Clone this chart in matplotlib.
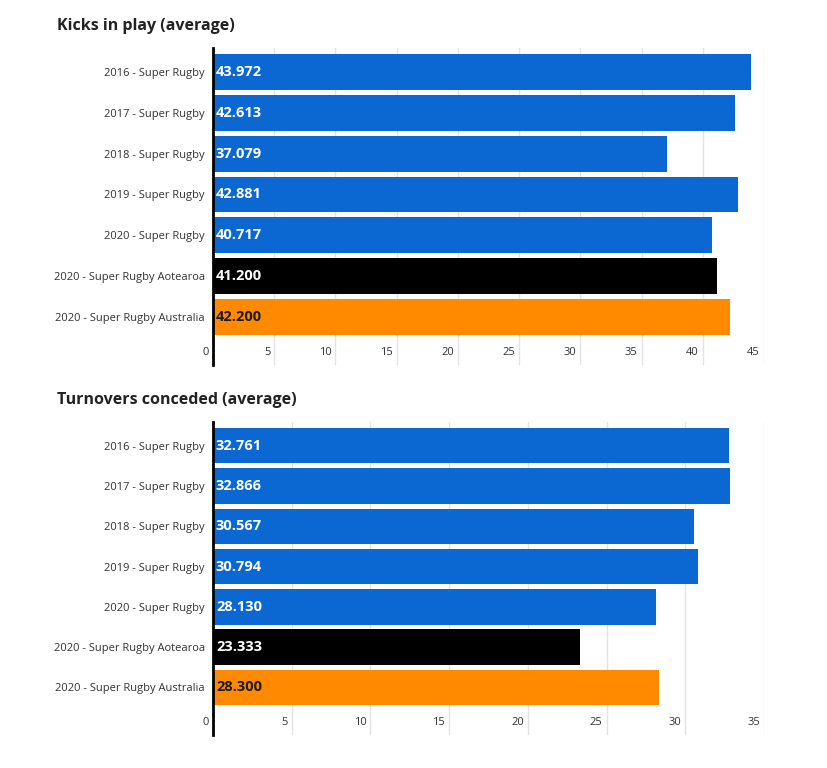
"""Kicks in play / turnovers conceded, Super Rugby seasons (horizontal bars)."""

import matplotlib
matplotlib.use('Agg')
import matplotlib.pyplot as plt
from matplotlib.transforms import ScaledTranslation

plt.rcParams.update({
    'font.family': ['Open Sans', 'DejaVu Sans'],
    'axes.linewidth': 0.8,
})

# ---------------------------------------------------------------------------
# Data
# ---------------------------------------------------------------------------
categories = [
    '2016 - Super Rugby',
    '2017 - Super Rugby',
    '2018 - Super Rugby',
    '2019 - Super Rugby',
    '2020 - Super Rugby',
    '2020 - Super Rugby Aotearoa',
    '2020 - Super Rugby Australia',
]
kicks_in_play = [43.972, 42.613, 37.079, 42.881, 40.717, 41.200, 42.200]
turnovers_conceded = [32.761, 32.866, 30.567, 30.794, 28.130, 23.333, 28.300]

kicks_ticks = [0, 5, 10, 15, 20, 25, 30, 35, 40, 45]
turnover_ticks = [0, 5, 10, 15, 20, 25, 30, 35]

BLUE = '#0b68d2'
BLACK = '#000000'
ORANGE = '#ff8a00'
bar_colours = [BLUE] * 5 + [BLACK, ORANGE]
label_colours = ['white'] * 6 + ['#1a1a1a']

W, H, DPI = 828, 768, 100
fig = plt.figure(figsize=(W / DPI, H / DPI), dpi=DPI)


def draw_panel(rect, title, values, ticks):
    ax = fig.add_axes(rect)
    ypos = list(range(len(categories)))
    ax.barh(ypos, values, height=0.88, color=bar_colours, zorder=3)
    ax.set_xlim(0, ticks[-1])
    ax.set_ylim(len(categories) - 1 + 1.18, -0.59)

    # value labels inside bars, left aligned
    offs = ScaledTranslation(3 / DPI, 0, fig.dpi_scale_trans)
    for y, v, c in zip(ypos, values, label_colours):
        ax.text(0, y, f'{v:.3f}', ha='left', va='center', fontsize=10.5,
                fontweight='bold', color=c, zorder=4,
                transform=ax.transData + offs)

    ax.set_yticks(ypos)
    ax.set_yticklabels(categories, fontsize=8, color='#333333')
    ax.tick_params(axis='y', length=0, pad=6)

    ax.set_xticks(ticks)
    ax.set_xticklabels([str(t) for t in ticks], fontsize=8, color='#333333')
    ax.tick_params(axis='x', length=0, pad=-13)
    shift = ScaledTranslation(-4 / DPI, 0, fig.dpi_scale_trans)
    for lab in ax.get_xticklabels():
        lab.set_ha('right')
        lab.set_transform(lab.get_transform() + shift)

    ax.grid(axis='x', color='#e3e3e3', linewidth=1, zorder=0)
    for side in ('top', 'right', 'bottom'):
        ax.spines[side].set_visible(False)
    ax.spines['left'].set_color('black')
    ax.spines['left'].set_linewidth(2)
    ax.spines['left'].set_zorder(5)

    top = (1 - rect[1] - rect[3]) * H
    fig.text(57 / W, 1 - (top - 22) / H, title, ha='left', va='center',
             fontsize=11.5, fontweight='bold', color='#222222')
    return ax


left = 213 / W
width = (764 - 213) / W
draw_panel([left, 1 - 365 / H, width, (365 - 48) / H],
           'Kicks in play (average)', kicks_in_play, kicks_ticks)
draw_panel([left, 1 - 735 / H, width, (735 - 422) / H],
           'Turnovers conceded (average)', turnovers_conceded, turnover_ticks)

fig.savefig('out.png', dpi=DPI)
plt.close(fig)
